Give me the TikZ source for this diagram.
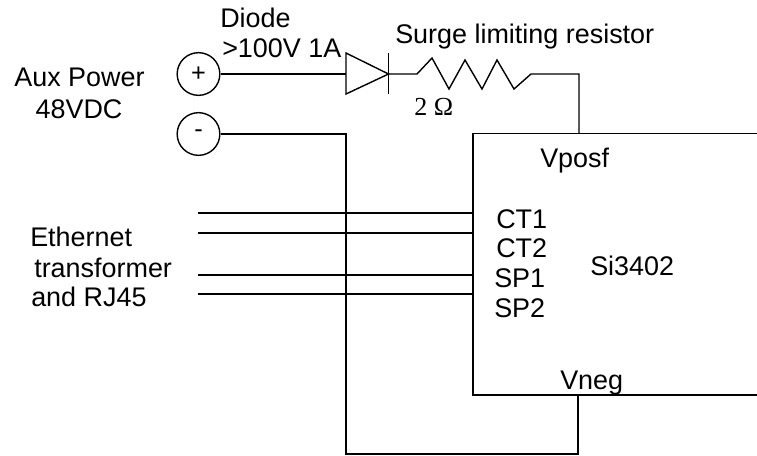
\documentclass[tikz,border=0pt]{standalone}
\usepackage{fontspec}
\setmainfont{Liberation Sans}
\newfontfamily\serifpart{Liberation Serif}
\tikzset{
  wire/.style={line width=1.05pt,black,line join=miter},
  term/.style={circle,draw,line width=1.05pt,minimum size=32pt,inner sep=0pt,font=\fontsize{19}{19}\selectfont},
  lab/.style={inner sep=0pt,anchor=base west,font=\fontsize{20.2}{24}\selectfont},
  labc/.style={inner sep=0pt,anchor=base,font=\fontsize{20.2}{24}\selectfont}
}
\begin{document}
\begin{tikzpicture}[x=0.75pt,y=-0.75pt]
\useasboundingbox (0,0) rectangle (757,455);
% terminals
\node[term] (plus) at (198.5,74) {+};
\node[term] (minus) at (198.5,134) {-};
% diode
\coordinate (dA) at (346,74);
\coordinate (dK) at (388.5,74);
\coordinate (rA) at (417,74);
\coordinate (rB) at (531,74);
\coordinate (vpos) at (579,133.5);
\coordinate (vneg) at (578,395);
\coordinate (bTL) at (473,133.5);
\coordinate (bTR) at (757,133.5);
\coordinate (bBL) at (473,395);
\coordinate (bBR) at (757,395);
\coordinate (nC) at (346,454);
\draw[wire] (plus) -- (dA);
\draw[wire] (346,53) -- (dK) -- (346,94) -- cycle;
\draw[wire] (388.5,53) -- (388.5,94);
\draw[wire] (dK) -- (rA) -- (432,58) -- (449,89) -- (465,60) -- (482,89) -- (497,60) -- (514,89) -- (rB) -| (vpos);
% chip outline, open on the right
\draw[wire] (bTR) -- (bTL) -- (bBL) -- (bBR);
% negative rail
\draw[wire] (minus) -| (nC) -| (vneg);
% ethernet lines
\coordinate (l1) at (198,213); \coordinate (e1) at (473,213);
\coordinate (l2) at (198,233); \coordinate (e2) at (473,233);
\coordinate (l3) at (198,275); \coordinate (e3) at (473,275);
\coordinate (l4) at (198,294); \coordinate (e4) at (473,294);
\draw[wire] (l1) -- (e1);
\draw[wire] (l2) -- (e2);
\draw[wire] (l3) -- (e3);
\draw[wire] (l4) -- (e4);
% labels
\node[lab] (t1) at (220,27) {Diode};
\node[lab] (t2) at (222,57) {>100V 1A};
\node[lab] (t3) at (395,43) {Surge limiting resistor};
\node[lab,font=\serifpart\fontsize{19.5}{22}\selectfont] (t4) at (414,115) {2 Ω};
\node[labc] (t5) at (79.5,86) {Aux Power};
\node[labc] (t6) at (79,118) {48VDC};
\node[lab] (t7) at (30,246) {Ethernet};
\node[lab] (t8) at (34,277) {transformer};
\node[lab] (t9) at (31,306) {and RJ45};
\node[lab] (t10) at (540,167) {Vposf};
\node[lab] (t11) at (496,228) {CT1};
\node[lab] (t12) at (496,257) {CT2};
\node[lab] (t13) at (494,287) {SP1};
\node[lab] (t14) at (494,317) {SP2};
\node[lab] (t15) at (590,275) {Si3402};
\node[lab] (t16) at (560,389) {Vneg};
\end{tikzpicture}
\end{document}
